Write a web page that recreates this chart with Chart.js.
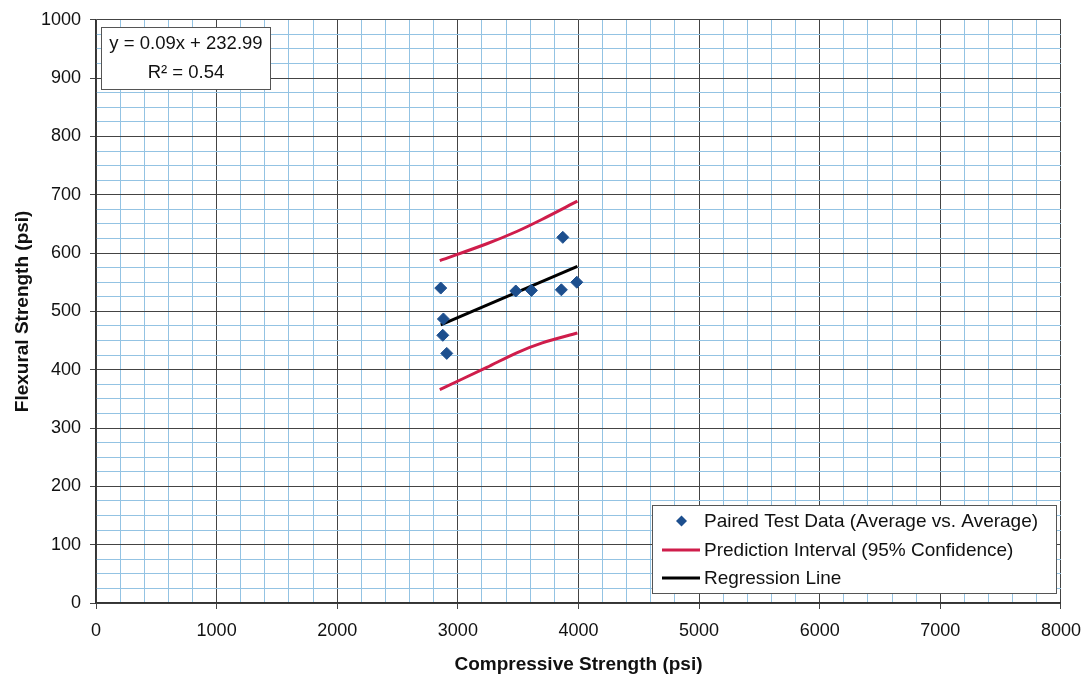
<!DOCTYPE html>
<html>
<head>
<meta charset="utf-8">
<script src="https://cdn.jsdelivr.net/npm/chart.js@4.4.0/dist/chart.umd.min.js"></script>
<style>
  html, body { margin: 0; padding: 0; background: #fff; }
  #wrap { width: 1092px; height: 681px; position: relative; }
</style>
</head>
<body>
<div id="wrap"><canvas id="chart" width="1092" height="681"></canvas></div>
<script>
// ─── DATA ────────────────────────────────────────────────────────────────
const testX = [2858, 2880, 2875, 2908, 3480, 3610, 3870, 3858, 3986];
const testY = [540, 487, 459, 428, 535, 536, 627, 537, 550];

const upperX = [2850, 3240, 3488, 3700, 3991];
const upperY = [587, 616, 637, 658, 689];

const lowerX = [2850, 3240, 3488, 3700, 3991];
const lowerY = [366, 404, 429, 446, 463];

const regX = [2858, 3991];
const regY = [477, 577];

const seriesNames = ['Paired Test Data (Average vs. Average)', 'Prediction Interval (95% Confidence)', 'Regression Line'];
const equationLines = ['y = 0.09x + 232.99', 'R² = 0.54'];

const FONT = "'Liberation Sans', Arial, sans-serif";
const BLUE = '#1d4f8e';
const RED = '#cf1d4b';
const MAJOR = '#444';
const MINOR = '#93c3e3';

const pts = (xs, ys) => xs.map((x, i) => ({ x, y: ys[i] }));

// equation box + in-plot legend, drawn after the datasets
const overlays = {
  id: 'overlays',
  afterDraw(chart) {
    const c = chart.ctx;
    c.save();
    // equation box
    c.fillStyle = '#fff';
    c.strokeStyle = '#555';
    c.lineWidth = 1;
    c.fillRect(101.5, 27.5, 169, 62);
    c.strokeRect(101.5, 27.5, 169, 62);
    c.fillStyle = '#111';
    c.font = '18.5px ' + FONT;
    c.textAlign = 'center';
    c.textBaseline = 'middle';
    c.fillText(equationLines[0], 186, 44);
    c.fillText(equationLines[1], 186, 73);

    // legend
    c.fillStyle = '#fff';
    c.fillRect(652.5, 505.5, 404, 88);
    c.strokeStyle = '#555';
    c.strokeRect(652.5, 505.5, 404, 88);
    const rows = [521, 550, 578];
    // diamond
    c.fillStyle = BLUE;
    c.beginPath();
    c.moveTo(681.5, rows[0] - 5.5); c.lineTo(687, rows[0]);
    c.lineTo(681.5, rows[0] + 5.5); c.lineTo(676, rows[0]);
    c.closePath(); c.fill();
    c.lineWidth = 3;
    c.strokeStyle = RED;
    c.beginPath(); c.moveTo(662, rows[1]); c.lineTo(700, rows[1]); c.stroke();
    c.strokeStyle = '#000';
    c.beginPath(); c.moveTo(662, rows[2]); c.lineTo(700, rows[2]); c.stroke();
    c.fillStyle = '#111';
    c.textAlign = 'left';
    c.font = '19px ' + FONT;
    seriesNames.forEach((s, i) => c.fillText(s, 704, rows[i] + 1));
    c.restore();
  }
};

new Chart(document.getElementById('chart'), {
  type: 'scatter',
  data: {
    datasets: [
      { label: seriesNames[0], data: pts(testX, testY), backgroundColor: BLUE, borderColor: BLUE,
        pointStyle: 'rectRot', pointRadius: 6, order: 0 },
      { label: seriesNames[1], data: pts(upperX, upperY), showLine: true, borderColor: RED,
        borderWidth: 3, pointRadius: 0, tension: 0.3, order: 2 },
      { label: seriesNames[1] + ' low', data: pts(lowerX, lowerY), showLine: true, borderColor: RED,
        borderWidth: 3, pointRadius: 0, tension: 0.3, order: 2 },
      { label: seriesNames[2], data: pts(regX, regY), showLine: true, borderColor: '#000',
        borderWidth: 3, pointRadius: 0, order: 1 }
    ]
  },
  options: {
    responsive: false,
    animation: false,
    layout: { padding: { left: 0, right: 31, top: 14, bottom: 0 } },
    plugins: { legend: { display: false }, tooltip: { enabled: false } },
    scales: {
      x: {
        type: 'linear', min: 0, max: 8000,
        afterFit: s => { s.height = 78; },
        ticks: {
          stepSize: 200, autoSkip: false, maxRotation: 0, padding: 11,
          color: '#111', font: { family: FONT, size: 18 },
          callback: v => (v % 1000 === 0 ? v : '')
        },
        grid: {
          color: ctx => (ctx.tick && ctx.tick.value % 1000 === 0 ? MAJOR : MINOR),
          lineWidth: 1, tickLength: 6,
          tickColor: ctx => (ctx.tick && ctx.tick.value % 1000 === 0 ? MAJOR : 'rgba(0,0,0,0)')
        },
        border: { color: '#333', width: 1.5 },
        title: {
          display: true, text: 'Compressive Strength (psi)', color: '#111',
          font: { family: FONT, size: 19, weight: 'bold' }, padding: { top: 0, bottom: 5 }
        }
      },
      y: {
        type: 'linear', min: 0, max: 1000,
        afterFit: s => { s.width = 96; },
        ticks: {
          stepSize: 25, autoSkip: false, padding: 9,
          color: '#111', font: { family: FONT, size: 18 },
          callback: v => (v % 100 === 0 ? v : '')
        },
        grid: {
          color: ctx => (ctx.tick && ctx.tick.value % 100 === 0 ? MAJOR : MINOR),
          lineWidth: 1, tickLength: 6,
          tickColor: ctx => (ctx.tick && ctx.tick.value % 100 === 0 ? MAJOR : 'rgba(0,0,0,0)')
        },
        border: { color: '#333', width: 1.5 },
        title: {
          display: true, text: 'Flexural Strength (psi)', color: '#111',
          font: { family: FONT, size: 19, weight: 'bold' }, padding: { top: 11, bottom: 0 }
        }
      }
    }
  },
  plugins: [overlays]
});
</script>
</body>
</html>
